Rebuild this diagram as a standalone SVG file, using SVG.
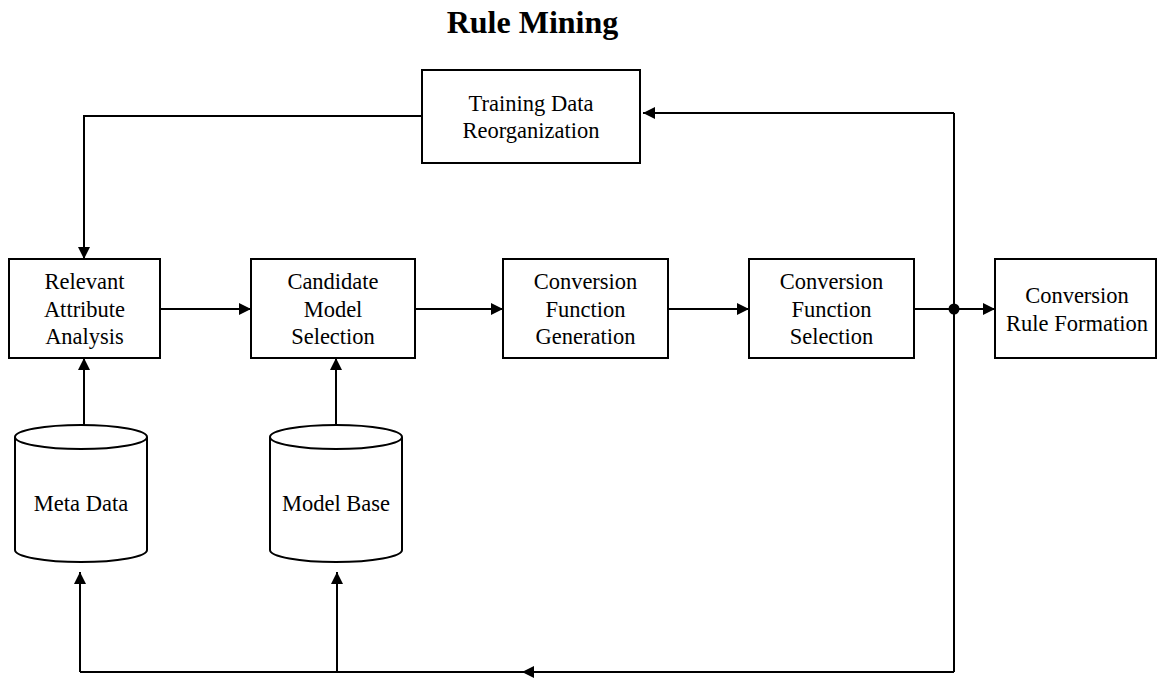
<svg xmlns="http://www.w3.org/2000/svg" width="1158" height="679" viewBox="0 0 1158 679">
<defs>
<marker id="ah" markerWidth="12" markerHeight="12" viewBox="0 0 12 12" refX="12" refY="6" orient="auto" markerUnits="userSpaceOnUse">
<path d="M0,0 L12,6 L0,12 Z" fill="#000"/>
</marker>
<style>
.box{fill:#fff;stroke:#000;stroke-width:2}
.cyl{fill:#fff;stroke:#000;stroke-width:2}
.lbl{font-family:"Liberation Serif","Times New Roman",serif;font-size:22.5px;fill:#000;text-anchor:middle}
.ttl{font-family:"Liberation Serif","Times New Roman",serif;font-size:32px;font-weight:bold;fill:#000;text-anchor:middle}
.con{fill:none;stroke:#000;stroke-width:2}
.arr{marker-end:url(#ah)}
</style>
</defs>
<rect width="1158" height="679" fill="#fff"/>
<text class="ttl" x="532.5" y="33">Rule Mining</text>

<g id="connectors">
<path class="con arr" d="M422,116 H84 V259"/>
<path class="con arr" d="M160,309 H251"/>
<path class="con arr" d="M415,309 H503"/>
<path class="con arr" d="M668,309 H749"/>
<path class="con arr" d="M914,309 H995"/>
<path class="con arr" d="M84,425 V358"/>
<path class="con arr" d="M336,425 V358"/>
<path class="con" d="M954,672 V113"/>
<path class="con arr" d="M954,113 H643"/>
<path class="con arr" d="M954,672 H522"/>
<path class="con" d="M530,672 H80"/>
<path class="con arr" d="M80,672 V572"/>
<path class="con arr" d="M337,672 V572"/>
<circle cx="954" cy="309" r="5.5" fill="#000"/>
</g>

<g id="training">
<rect class="box" x="422" y="70" width="218" height="93"/>
<text class="lbl" x="531" y="111">Training Data</text>
<text class="lbl" x="531" y="138">Reorganization</text>
</g>

<g id="relevant">
<rect class="box" x="9" y="259" width="151" height="99"/>
<text class="lbl" x="84.5" y="289">Relevant</text>
<text class="lbl" x="84.5" y="317">Attribute</text>
<text class="lbl" x="84.5" y="344">Analysis</text>
</g>

<g id="candidate">
<rect class="box" x="251" y="259" width="164" height="99"/>
<text class="lbl" x="333" y="289">Candidate</text>
<text class="lbl" x="333" y="317">Model</text>
<text class="lbl" x="333" y="344">Selection</text>
</g>

<g id="generation">
<rect class="box" x="503" y="259" width="165" height="99"/>
<text class="lbl" x="585.5" y="289">Conversion</text>
<text class="lbl" x="585.5" y="317">Function</text>
<text class="lbl" x="585.5" y="344">Generation</text>
</g>

<g id="selection">
<rect class="box" x="749" y="259" width="165" height="99"/>
<text class="lbl" x="831.5" y="289">Conversion</text>
<text class="lbl" x="831.5" y="317">Function</text>
<text class="lbl" x="831.5" y="344">Selection</text>
</g>

<g id="formation">
<rect class="box" x="995" y="259" width="161" height="99"/>
<text class="lbl" x="1077" y="303">Conversion</text>
<text class="lbl" x="1077" y="331">Rule Formation</text>
</g>

<g id="metadata">
<path class="cyl" d="M15,437 V550 A66,12 0 0 0 147,550 V437"/>
<ellipse class="cyl" cx="81" cy="437" rx="66" ry="12"/>
<text class="lbl" x="81" y="511">Meta Data</text>
</g>

<g id="modelbase">
<path class="cyl" d="M270,437 V550 A66,12 0 0 0 402,550 V437"/>
<ellipse class="cyl" cx="336" cy="437" rx="66" ry="12"/>
<text class="lbl" x="336" y="511">Model Base</text>
</g>
</svg>
